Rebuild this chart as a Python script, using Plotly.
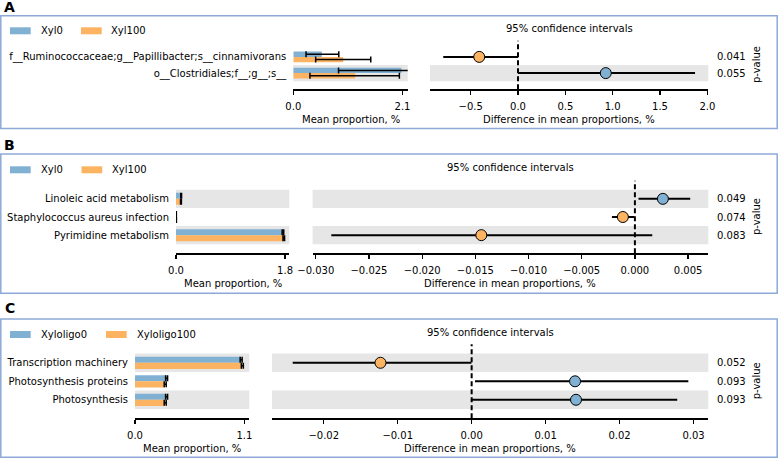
import plotly.graph_objects as go

W, H = 778, 458
BLUE = "#80B1D3"
ORANGE = "#FDB462"
GREY = "#E6E6E6"
BORDER = "#8EA9D8"
FONT = "DejaVu Sans"

# ---------------- data ----------------
A_features = ["f__Ruminococcaceae;g__Papillibacter;s__cinnamivorans", "o__Clostridiales;f__;g__;s__"]
A_groups = ["Xyl0", "Xyl100"]
A_mean1 = [0.55, 2.08]
A_lo1 = [0.245, 0.87]
A_hi1 = [0.875, 2.70]
A_mean2 = [0.96, 1.19]
A_lo2 = [0.43, 0.32]
A_hi2 = [1.49, 2.04]
A_diff = [-0.41, 0.927]
A_ci_lo = [-0.79, 0.0]
A_ci_hi = [0.0, 1.87]
A_pvalues = ["0.041", "0.055"]
A_bar_ticks = [0.0, 2.1]
A_ci_ticks = [-0.5, 0.0, 0.5, 1.0, 1.5, 2.0]

B_features = ["Linoleic acid metabolism", "Staphylococcus aureus infection", "Pyrimidine metabolism"]
B_groups = ["Xyl0", "Xyl100"]
B_mean1 = [0.085, 0.005, 1.765]
B_lo1 = [0.078, 0.004, 1.752]
B_hi1 = [0.092, 0.006, 1.778]
B_mean2 = [0.082, 0.006, 1.779]
B_lo2 = [0.075, 0.005, 1.766]
B_hi2 = [0.089, 0.007, 1.792]
B_diff = [0.00263, -0.00113, -0.01444]
B_ci_lo = [0.00034, -0.00216, -0.02854]
B_ci_hi = [0.0052, -0.00004, 0.00163]
B_pvalues = ["0.049", "0.074", "0.083"]
B_bar_ticks = [0.0, 1.8]
B_ci_ticks = [-0.030, -0.025, -0.020, -0.015, -0.010, -0.005, 0.000, 0.005]

C_features = ["Transcription machinery", "Photosynthesis proteins", "Photosynthesis"]
C_groups = ["Xyloligo0", "Xyloligo100"]
C_mean1 = [1.068, 0.318, 0.318]
C_lo1 = [1.058, 0.308, 0.308]
C_hi1 = [1.078, 0.328, 0.328]
C_mean2 = [1.080, 0.304, 0.304]
C_lo2 = [1.070, 0.294, 0.294]
C_hi2 = [1.090, 0.314, 0.314]
C_diff = [-0.01233, 0.01398, 0.01411]
C_ci_lo = [-0.0242, 0.00045, 0.0]
C_ci_hi = [-0.00003, 0.0293, 0.0278]
C_pvalues = ["0.052", "0.093", "0.093"]
C_bar_ticks = [0.0, 1.1]
C_ci_ticks = [-0.02, -0.01, 0.00, 0.01, 0.02, 0.03]

# --------------- layout (pixel geometry) ---------------
def fx(px):
    return px / W

def fy(py):
    return 1 - py / H

panels = [
    dict(letter="A", feats=A_features, groups=A_groups, m1=A_mean1, lo1=A_lo1, hi1=A_hi1,
         m2=A_mean2, lo2=A_lo2, hi2=A_hi2, d=A_diff, dlo=A_ci_lo, dhi=A_ci_hi, p=A_pvalues,
         bticks=A_bar_ticks, cticks=A_ci_ticks, bfmt=".1f", cfmt=".1f",
         box=(15.7, 128.5), letter_y=6.5, leg_y=30.8, leg_x2=(81, 109.3),
         ytop=40.7, ybot=89.3, bx=(293.3, 407.7), brange=[0, 2.2],
         cx=(430, 708.3), crange=[-0.93, 2.01], title_y=120, ci_title_y=29),
    dict(letter="B", feats=B_features, groups=B_groups, m1=B_mean1, lo1=B_lo1, hi1=B_hi1,
         m2=B_mean2, lo2=B_lo2, hi2=B_hi2, d=B_diff, dlo=B_ci_lo, dhi=B_ci_hi, p=B_pvalues,
         bticks=B_bar_ticks, cticks=B_ci_ticks, bfmt=".1f", cfmt=".3f",
         box=(154, 293.3), letter_y=145, leg_y=169.8, leg_x2=(81.5, 110),
         ytop=180.7, ybot=253.3, bx=(176, 289.3), brange=[0, 1.87],
         cx=(312.6, 708.3), crange=[-0.0303, 0.0069], title_y=283.3, ci_title_y=167.7),
    dict(letter="C", feats=C_features, groups=C_groups, m1=C_mean1, lo1=C_lo1, hi1=C_hi1,
         m2=C_mean2, lo2=C_lo2, hi2=C_hi2, d=C_diff, dlo=C_ci_lo, dhi=C_ci_hi, p=C_pvalues,
         bticks=C_bar_ticks, cticks=C_ci_ticks, bfmt=".1f", cfmt=".2f",
         box=(319, 457.3), letter_y=308, leg_y=334.5, leg_x2=(106, 135),
         ytop=344.3, ybot=418.3, bx=(135, 249.3), brange=[0, 1.15],
         cx=(272, 708.3), crange=[-0.027, 0.032], title_y=448, ci_title_y=332.3),
]

fig = go.Figure()
shapes = []
annotations = []
BAR_H = 0.33
tickfont = dict(family=FONT, size=10, color="black")

def sfx(n):
    return "" if n == 1 else str(n)

for k, P in enumerate(panels):
    nb, nc = 2 * k + 1, 2 * k + 2
    xb, yb = "x" + sfx(nb), "y" + sfx(nb)
    xc, yc = "x" + sfx(nc), "y" + sfx(nc)
    n = len(P["feats"])
    pos = [n - 1 - i for i in range(n)]

    # bars
    fig.add_trace(go.Bar(x=P["m1"], y=pos, orientation="h", width=BAR_H, offset=0,
                         marker=dict(color=BLUE, line=dict(width=0)), xaxis=xb, yaxis=yb,
                         showlegend=False, hoverinfo="skip"))
    fig.add_trace(go.Bar(x=P["m2"], y=pos, orientation="h", width=BAR_H, offset=-BAR_H,
                         marker=dict(color=ORANGE, line=dict(width=0)), xaxis=xb, yaxis=yb,
                         showlegend=False, hoverinfo="skip"))
    # bar error bars
    for m, lo, hi, sgn in ((P["m1"], P["lo1"], P["hi1"], 1), (P["m2"], P["lo2"], P["hi2"], -1)):
        fig.add_trace(go.Scatter(
            x=m, y=[p + sgn * BAR_H / 2 for p in pos], mode="markers",
            marker=dict(size=2, color="rgba(0,0,0,0)"),
            error_x=dict(type="data", symmetric=False,
                         array=[h - v for h, v in zip(hi, m)],
                         arrayminus=[v - l for v, l in zip(m, lo)],
                         color="black", thickness=1.5, width=3),
            xaxis=xb, yaxis=yb, showlegend=False, hoverinfo="skip", cliponaxis=False))
    # CI points
    fig.add_trace(go.Scatter(
        x=P["d"], y=pos, mode="markers",
        marker=dict(size=11, color=[BLUE if v > 0 else ORANGE for v in P["d"]],
                    line=dict(color="black", width=1)),
        error_x=dict(type="data", symmetric=False,
                     array=[h - v for h, v in zip(P["dhi"], P["d"])],
                     arrayminus=[v - l for v, l in zip(P["d"], P["dlo"])],
                     color="black", thickness=2, width=0),
        xaxis=xc, yaxis=yc, showlegend=False, hoverinfo="skip", cliponaxis=False))

    # grey bands
    for p in pos:
        if p % 2 == 0:
            for xr, yr in ((xb, yb), (xc, yc)):
                shapes.append(dict(type="rect", xref=xr + " domain", yref=yr, x0=0, x1=1,
                                   y0=p - 0.5, y1=p + 0.5, fillcolor=GREY,
                                   line=dict(width=0), layer="below"))
    # zero line
    shapes.append(dict(type="line", xref=xc, yref=yc + " domain", x0=0, x1=0, y0=0, y1=1,
                       line=dict(color="black", width=2, dash="5px,3px"), layer="below"))

    # panel box
    shapes.append(dict(type="rect", xref="paper", yref="paper", x0=fx(0.8), x1=fx(777.2),
                       y0=fy(P["box"][1]), y1=fy(P["box"][0]),
                       line=dict(color=BORDER, width=1.5), fillcolor="rgba(0,0,0,0)"))

    # axes
    common_x = dict(showline=True, linecolor="black", linewidth=1.3, ticks="outside",
                    ticklen=4, tickwidth=1.3, tickcolor="black", showgrid=False,
                    zeroline=False, tickfont=tickfont, fixedrange=True, ticklabelstandoff=3,
                    automargin=False)
    fig.layout["xaxis" + sfx(nb)] = dict(common_x, domain=[fx(P["bx"][0]), fx(P["bx"][1])],
                                         anchor=yb, range=P["brange"], tickvals=P["bticks"],
                                         tickformat=P["bfmt"])
    fig.layout["xaxis" + sfx(nc)] = dict(common_x, domain=[fx(P["cx"][0]), fx(P["cx"][1])],
                                         anchor=yc, range=P["crange"], tickvals=P["cticks"],
                                         tickformat=P["cfmt"])
    common_y = dict(domain=[fy(P["ybot"]), fy(P["ytop"])], range=[-1, n], showline=False,
                    showgrid=False, zeroline=False, fixedrange=True, automargin=False)
    fig.layout["yaxis" + sfx(nb)] = dict(common_y, anchor=xb, tickvals=pos, ticktext=P["feats"],
                                         ticks="", tickfont=tickfont, ticklabelstandoff=6)
    fig.layout["yaxis" + sfx(nc)] = dict(common_y, anchor=xc, showticklabels=False, ticks="")

    # text
    annotations.append(dict(text="Mean proportion, %", xref=xb + " domain", x=0.5, yref="paper",
                            y=fy(P["title_y"]), showarrow=False, font=tickfont,
                            xanchor="center", yanchor="middle"))
    annotations.append(dict(text="Difference in mean proportions, %", xref=xc + " domain", x=0.5,
                            yref="paper", y=fy(P["title_y"]), showarrow=False, font=tickfont,
                            xanchor="center", yanchor="middle"))
    annotations.append(dict(text="95% confidence intervals", xref=xc + " domain", x=0.5,
                            yref="paper", y=fy(P["ci_title_y"]), showarrow=False, font=tickfont,
                            xanchor="center", yanchor="middle"))
    for p, pv in zip(pos, P["p"]):
        annotations.append(dict(text=pv, xref=xc + " domain", x=1, xshift=7, yref=yc, y=p,
                                showarrow=False, font=tickfont, xanchor="left", yanchor="middle"))
    annotations.append(dict(text="p-value", xref="paper", x=fx(756), yref=yc, y=(n - 1) / 2,
                            textangle=-90, showarrow=False, font=tickfont,
                            xanchor="center", yanchor="middle"))
    annotations.append(dict(text="<b>" + P["letter"] + "</b>", xref="paper", x=fx(9.5),
                            yref="paper", y=fy(P["letter_y"]), showarrow=False,
                            font=dict(family=FONT, size=14, color="black"),
                            xanchor="center", yanchor="middle"))
    # legend
    for (sx, tx), col, name in (((10, 39), BLUE, P["groups"][0]),
                                (P["leg_x2"], ORANGE, P["groups"][1])):
        shapes.append(dict(type="rect", xref="paper", yref="paper", x0=fx(sx), x1=fx(sx + 20.7),
                           y0=fy(P["leg_y"] + 3.5), y1=fy(P["leg_y"] - 3.5), fillcolor=col,
                           line=dict(width=0)))
        annotations.append(dict(text=name, xref="paper", x=fx(tx), yref="paper", y=fy(P["leg_y"]),
                                showarrow=False, font=tickfont, xanchor="left", yanchor="middle"))

fig.update_layout(width=W, height=H, margin=dict(l=0, r=0, t=0, b=0, pad=0, autoexpand=False),
                  paper_bgcolor="white", plot_bgcolor="rgba(0,0,0,0)",
                  barmode="overlay", shapes=shapes, annotations=annotations,
                  font=dict(family=FONT, size=10, color="black"), showlegend=False)

fig.write_html("out.html", config={"displayModeBar": False, "staticPlot": True},
               post_script="document.body.style.margin='0';document.body.style.padding='0';")
